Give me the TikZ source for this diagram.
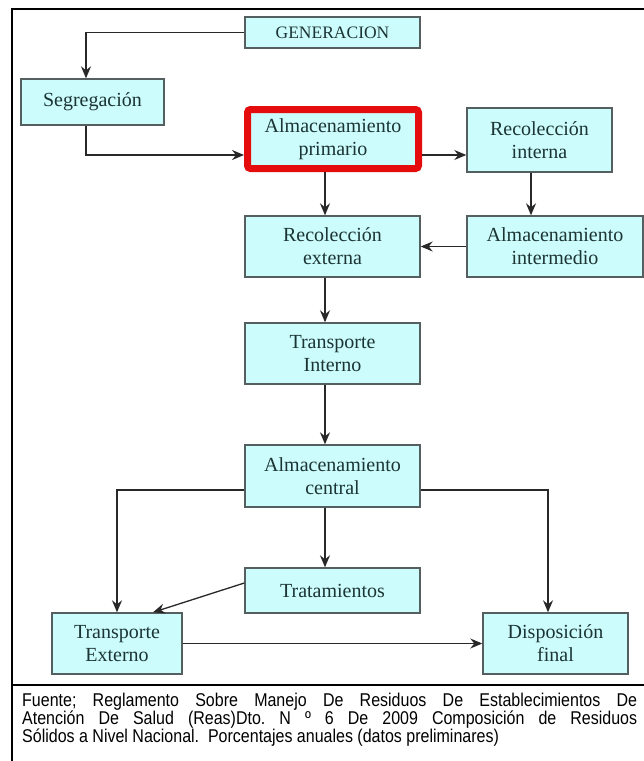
\documentclass[tikz,border=0pt]{standalone}
\usepackage{fontspec}
\setmainfont{Liberation Serif}
\newfontfamily\boxfont{Liberation Serif}
\newfontfamily\capfont[FakeStretch=0.865]{Liberation Sans}
\usetikzlibrary{arrows.meta}
\definecolor{boxfill}{RGB}{204,252,252}
\definecolor{boxline}{RGB}{85,95,95}
\definecolor{boxtext}{RGB}{28,52,52}
\definecolor{hired}{RGB}{228,12,12}
\definecolor{arrline}{RGB}{40,40,40}
\tikzset{
  procbox/.style={draw=boxline, line width=1.4pt, fill=boxfill, text=boxtext,
    align=center, inner sep=0pt, font=\boxfont\fontsize{20}{23}\selectfont},
  hibox/.style={procbox, draw=hired, line width=7pt, rounded corners=3pt},
  arr/.style={draw=arrline, line width=1.3pt,
    -{Stealth[length=12pt,width=10pt,inset=4pt]}},
  framel/.style={draw=black, line width=1.5pt},
  capline/.style={anchor=base west, inner sep=0pt, text=black,
    font=\capfont\fontsize{18.5}{18}\selectfont\frenchspacing}
}
\begin{document}
\begin{tikzpicture}[x=1pt,y=-1pt]
\clip (0,0) rectangle (644,761);
\fill[white] (0,0) rectangle (644,761);
% frame
\draw[framel] (12,9) rectangle (660,775);
\draw[framel] (12,685) -- (660,685);
% nodes
\node[procbox, minimum width=175pt, minimum height=31pt, font=\boxfont\fontsize{17.5}{20}\selectfont] (gen) at (332.5,32.5) {GENERACION};
\node[procbox, minimum width=143pt, minimum height=46pt] (seg) at (92.5,102) {Segregación};
\node[hibox, minimum width=171pt, minimum height=59pt] (ap) at (333,139) {Almacenamiento\\primario};
\node[procbox, minimum width=145pt, minimum height=64pt] (ri) at (539.5,140) {Recolección\\interna};
\node[procbox, minimum width=175pt, minimum height=61pt] (re) at (332.5,246.5) {Recolección\\externa};
\node[procbox, minimum width=176pt, minimum height=61pt] (ai) at (555,246.5) {Almacenamiento\\intermedio};
\node[procbox, minimum width=175pt, minimum height=61pt] (ti) at (332.5,353.5) {Transporte\\Interno};
\node[procbox, minimum width=175pt, minimum height=62pt] (ac) at (332.5,476) {Almacenamiento\\central};
\node[procbox, minimum width=175pt, minimum height=45pt] (tr) at (332.5,590.5) {Tratamientos};
\node[procbox, minimum width=130pt, minimum height=61pt] (te) at (117,643.5) {Transporte\\Externo};
\node[procbox, minimum width=145pt, minimum height=61pt] (df) at (555.5,643.5) {Disposición\\final};
% helper coordinates
\coordinate (xS) at (86,0);
\coordinate (xA) at (325,0);
\coordinate (xB) at (531,0);
\coordinate (xC) at (548,0);
\coordinate (xD) at (153,0);
\coordinate (yA) at (0,155);
\coordinate (yB) at (0,490);
\coordinate (yC) at (0,583);
% connectors
\draw[arr] (gen.west) -| (xS |- seg.north);
\draw[arr] (xS |- seg.south) |- (ap.west |- yA);
\draw[arr] (ap.east |- yA) -- (ri.west |- yA);
\draw[arr] (xA |- ap.south) -- (xA |- re.north);
\draw[arr] (xB |- ri.south) -- (xB |- ai.north);
\draw[arr] (ai.west) -- (re.east);
\draw[arr] (xA |- re.south) -- (xA |- ti.north);
\draw[arr] (xA |- ti.south) -- (xA |- ac.north);
\draw[arr] (xA |- ac.south) -- (xA |- tr.north);
\draw[arr] (ac.west |- yB) -| (te.north);
\draw[arr] (ac.east |- yB) -| (xC |- df.north);
\draw[arr] (tr.west |- yC) -- (xD |- te.north);
\draw[arr] (te.east) -- (df.west);
% caption
\node[capline] (cap1) at (22,706) {\makebox[615pt][s]{Fuente; Reglamento Sobre Manejo De Residuos De Establecimientos De}};
\node[capline] (cap2) at (22,724) {\makebox[615pt][s]{Atención De Salud (Reas)Dto. N º 6 De 2009 Composición de Residuos}};
\node[capline] (cap3) at (22,742) {Sólidos a Nivel Nacional.\ \ Porcentajes anuales (datos preliminares)};
\end{tikzpicture}
\end{document}
